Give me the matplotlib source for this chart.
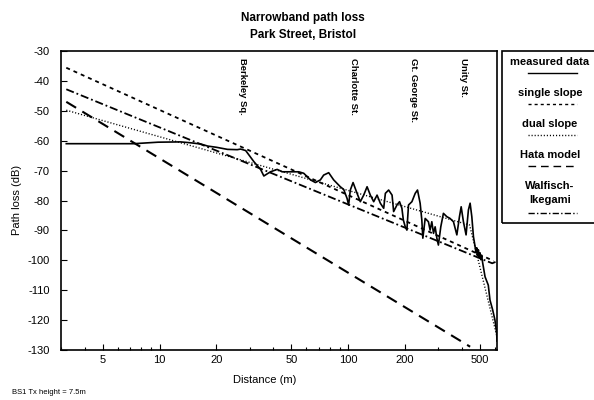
import matplotlib
matplotlib.use("Agg")
import matplotlib.pyplot as plt
from matplotlib.lines import Line2D
from matplotlib.patches import Rectangle
from matplotlib.ticker import FixedLocator, NullFormatter

plt.rcParams["font.family"] = ["Liberation Sans", "DejaVu Sans"]
plt.rcParams["axes.unicode_minus"] = False

# measured path loss along Park Street
dist_m = [3.2, 5.0, 7.3, 9.8, 12.9, 14.6, 16.5, 18.0, 20.0, 22.9, 25.8, 26.9, 28.6,
          31.6, 34.3, 35.7, 38.7, 42.0, 44.7, 48.4, 54.7, 58.1, 63.1, 67.0, 71.2,
          74.1, 78.8, 83.7, 90.8, 94.6, 98.6, 100.5, 102.6, 106.1, 111.4, 115.9,
          120.8, 125.9, 131.0, 136.5, 142.2, 148.0, 154.2, 157.4, 163.8, 170.8,
          174.1, 181.3, 187.1, 192.6, 196.0, 200.6, 204.7, 208.8, 217.6, 226.6,
          233.0, 240.6, 245.6, 248.7, 255.9, 266.2, 271.8, 277.5, 283.3, 289.0,
          295.1, 300.7, 309.6, 319.7, 333.2, 346.7, 361.4, 376.7, 388.9, 397.1,
          408.2, 421.6, 433.7, 442.9, 452.2, 461.3, 470.9, 476.0, 480.0, 485.0,
          490.0, 495.0, 500.0, 505.0, 510.0, 516.8, 531.4, 552.9, 564.5, 583.4,
          599.8, 612.6, 615.0]
loss_db = [-61.0, -61.0, -61.0, -60.5, -60.4, -60.7, -61.1, -61.8, -62.2, -62.9, -63.0,
           -62.8, -63.3, -67.0, -69.6, -71.8, -70.4, -69.6, -70.4, -70.4, -70.4, -70.9,
           -73.1, -74.0, -73.1, -71.5, -70.7, -73.1, -75.4, -76.3, -79.3, -81.5, -76.5,
           -74.0, -77.6, -80.4, -78.2, -75.4, -78.2, -80.4, -78.2, -80.9, -82.6, -77.6,
           -76.5, -78.2, -83.7, -81.5, -80.4, -82.6, -86.5, -88.8, -89.9, -81.5, -80.4,
           -77.6, -76.5, -80.9, -86.5, -92.6, -86.0, -87.1, -89.9, -87.1, -91.0, -88.8,
           -92.6, -94.9, -88.8, -84.3, -85.4, -86.0, -87.1, -91.5, -85.4, -82.1, -87.1,
           -91.5, -83.2, -80.9, -85.4, -92.1, -95.5, -97.5, -95.8, -98.5, -96.5, -99.0,
           -97.5, -99.8, -98.5, -101.0, -105.5, -108.3, -113.3, -116.6, -120.0, -124.4,
           -127.0]

# model lines (end / break points)
single_d = [3.2, 590.0]
single_db = [-35.6, -100.2]
dual_d = [3.2, 440.0, 612.0]
dual_db = [-49.8, -88.2, -125.0]
hata_d = [3.2, 443.0]
hata_db = [-47.0, -128.9]
wi_d = [3.2, 580.0, 612.0]
wi_db = [-42.8, -101.0, -100.4]

streets = ["Berkeley Sq.", "Charlotte St.", "Gt. George St.", "Unity St."]
street_d = [27.5, 107.0, 222.0, 411.0]

xtick_vals = [5, 10, 20, 50, 100, 200, 500]
ytick_vals = list(range(-130, -29, 10))

STY = {
    "measured": dict(color="black", lw=1.2, ls="-"),
    "single": dict(color="black", lw=1.3, ls=(0, (2.2, 2.2))),
    "dual": dict(color="black", lw=1.0, ls=(0, (0.8, 1.4))),
    "hata": dict(color="black", lw=1.5, ls=(0, (5.5, 3.5))),
    "wi": dict(color="black", lw=1.3, ls=(0, (4.5, 1.6, 1.0, 1.6))),
}

fig = plt.figure(figsize=(5.94, 4.0), dpi=100)
ax = fig.add_axes([61 / 594, 1 - 350 / 400, 436 / 594, 299 / 400])

ax.plot(hata_d, hata_db, **STY["hata"])
ax.plot(single_d, single_db, **STY["single"])
ax.plot(dual_d, dual_db, **STY["dual"])
ax.plot(wi_d, wi_db, **STY["wi"])
ax.plot(dist_m, loss_db, **STY["measured"])

ax.set_xscale("log")
ax.set_xlim(3, 615)
ax.set_ylim(-130, -30)
ax.xaxis.set_major_locator(FixedLocator(xtick_vals))
ax.set_xticklabels([str(v) for v in xtick_vals])
minor = [v * 10 ** k for k in range(0, 3) for v in range(1, 10)]
ax.xaxis.set_minor_locator(FixedLocator([m for m in minor if 3 <= m <= 615 and m not in xtick_vals]))
ax.xaxis.set_minor_formatter(NullFormatter())
ax.set_yticks(ytick_vals)
ax.tick_params(which="both", direction="in", labelsize=8, width=0.8)
ax.tick_params(which="major", length=4)
ax.tick_params(which="minor", length=2.5)
ax.tick_params(axis="y", pad=8)
for s in ax.spines.values():
    s.set_linewidth(1.2)

for name, d in zip(streets, street_d):
    ax.text(d, -32.3, name, rotation=-90, ha="center", va="top",
            fontsize=6.8, fontweight="bold")

fig.text(303 / 594, 1 - 18 / 400, "Narrowband path loss", ha="center", va="center",
         fontsize=8.5, fontweight="bold")
fig.text(303 / 594, 1 - 35 / 400, "Park Street, Bristol", ha="center", va="center",
         fontsize=8.5, fontweight="bold")
fig.text(17 / 594, 1 - 200 / 400, "Path loss (dB)", rotation=90, ha="center",
         va="center", fontsize=8)
fig.text(265 / 594, 1 - 380 / 400, "Distance (m)", ha="center", va="center", fontsize=8)
fig.text(12 / 594, 1 - 393 / 400, "BS1 Tx height = 7.5m", ha="left", va="center",
         fontsize=5.5)

# hand-drawn legend box, running off the right edge
fig.patches.append(Rectangle((502 / 594, 1 - 223 / 400), 0.2, 172 / 400,
                             transform=fig.transFigure, fill=False, lw=1.2, color="black"))
leg = [("measured data", 62, 73, "measured"), ("single slope", 93, 104, "single"),
       ("dual slope", 124, 135, "dual"), ("Hata model", 155, 166, "hata"),
       ("Walfisch-\nIkegami", 193, 213, "wi")]
for label, ty, ly, key in leg:
    fig.text(550 / 594, 1 - ty / 400, label, ha="center", va="center", fontsize=8,
             fontweight="bold", linespacing=1.6)
    st = dict(STY[key])
    st["lw"] = min(st["lw"], 1.0)
    fig.lines.append(Line2D([528 / 594, 577 / 594], [1 - ly / 400] * 2,
                            transform=fig.transFigure, **st))

fig.savefig("out.png", dpi=100)
